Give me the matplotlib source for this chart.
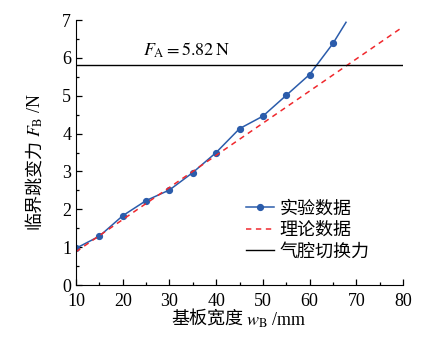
import matplotlib.pyplot as plt
import matplotlib.transforms as mtransforms
from matplotlib.ticker import MultipleLocator

# 基板宽度 wB (mm) 与临界跳变力 FB (N)
width_mm = [10, 15, 20, 25, 30, 35, 40, 45, 50, 55, 60, 65]
force_exp = [0.97, 1.29, 1.83, 2.23, 2.51, 2.97, 3.50, 4.13, 4.46, 5.01, 5.56, 6.38]
# curve keeps going past the last marker up to the top of the frame
tail_x = [65, 67.8]
tail_y = [6.38, 6.94]

theory_x = [10, 80]
theory_y = [0.88, 6.82]

f_a = 5.82

plt.rcParams['font.family'] = ['Liberation Serif', 'Noto Sans CJK SC']
plt.rcParams['mathtext.fontset'] = 'stix'
cjk = ["Noto Sans CJK SC"]

fig = plt.figure(figsize=(4.28, 3.41), dpi=100)
ax = fig.add_axes([0.1776, 0.1642, 0.7640, 0.7771])

blue = "#2b5cab"
ax.plot(width_mm, force_exp, "-", color=blue, lw=1.1, marker="o", ms=4.2,
        label="实验数据")
ax.plot(tail_x, tail_y, "-", color=blue, lw=1.1)
ax.plot(theory_x, theory_y, linestyle=(0, (3.5, 3)), color="#f0282d", lw=1.1,
        label="理论数据")
ax.plot([10, 80], [f_a, f_a], "-", color="black", lw=1.0, label="气腔切换力")

ax.text(24.3, 6.2, r"$F_{\rm A}=5.82\,{\rm N}$", fontsize=13, va="center", ha="left")

ax.set_xlim(10, 80)
ax.set_ylim(0, 7)
ax.xaxis.set_major_locator(MultipleLocator(10))
ax.xaxis.set_minor_locator(MultipleLocator(5))
ax.yaxis.set_major_locator(MultipleLocator(1))
ax.yaxis.set_minor_locator(MultipleLocator(0.5))
ax.tick_params(which="both", direction="in", labelsize=13, width=0.9)
ax.tick_params(which="major", length=4.5)
ax.tick_params(which="minor", length=2.5)
ax.tick_params(axis="x", pad=5.5)
ax.spines["top"].set_visible(False)
ax.spines["right"].set_visible(False)

# lift the "0" label a little so it does not sit on the "10"
fig.canvas.draw()
lbl0 = ax.get_yticklabels()[0]
lbl0.set_transform(lbl0.get_transform() +
                   mtransforms.ScaledTranslation(0, 2.5 / 72, fig.dpi_scale_trans))

# axis titles: chinese part and math part drawn side by side
ax.text(0.512, -0.132, "基板宽度", family=cjk, fontsize=13, transform=ax.transAxes,
        ha="right", va="center")
ax.text(0.519, -0.132, r"$w_{\rm B}$ /mm", fontsize=13, transform=ax.transAxes,
        ha="left", va="center")
ax.text(-0.125, 0.552, "临界跳变力", family=cjk, fontsize=13, rotation=90,
        transform=ax.transAxes, ha="center", va="top")
ax.text(-0.125, 0.560, r"$F_{\rm B}$ /N", fontsize=13, rotation=90,
        transform=ax.transAxes, ha="center", va="bottom")

ax.legend(loc="center left", bbox_to_anchor=(0.52, 0.2075), frameon=False,
          borderpad=0, borderaxespad=0, handlelength=1.55, handletextpad=0.3,
          labelspacing=0.2, prop={"family": cjk, "size": 13})

fig.savefig("out.png", dpi=100)
